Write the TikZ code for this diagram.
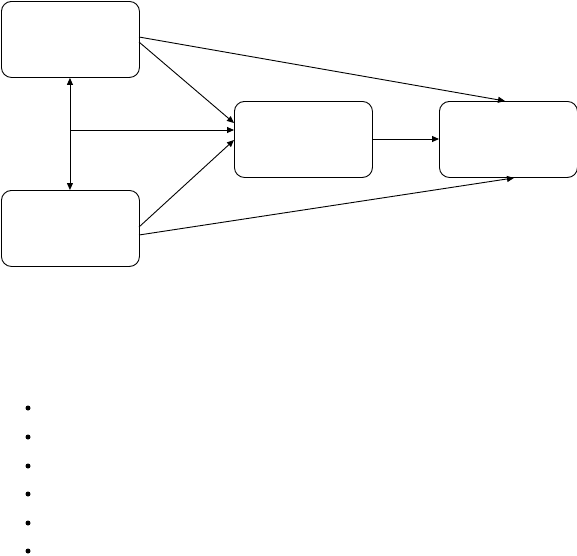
\documentclass[tikz,border=0pt]{standalone}
\usetikzlibrary{arrows.meta}
\begin{document}
\begin{tikzpicture}[x=1pt,y=-1pt,
  box/.style={draw,line width=0.9pt,rounded corners=10pt,minimum width=138pt,minimum height=76pt,inner sep=0pt,anchor=north west},
  conn/.style={line width=0.9pt,-{Triangle[length=7pt,width=6pt]}},
  dconn/.style={line width=0.9pt,{Triangle[length=7pt,width=6pt]}-{Triangle[length=7pt,width=6pt]}},
  bul/.style={circle,fill=black,minimum size=5pt,inner sep=0pt}]
\useasboundingbox (0,0) rectangle (577,555);
\node[box] (A) at (1,1) {};
\node[box] (B) at (1,190) {};
\node[box] (C) at (234,101) {};
\node[box] (D) at (439,101) {};
\coordinate (a1) at (139,37);
\coordinate (a2) at (139,42);
\coordinate (b1) at (139,227);
\coordinate (b2) at (139,235);
\coordinate (m) at (70,130);
\draw[conn] (a1) -- (D.north west -| 505,0);
\draw[conn] (a2) -- (C.west |- 0,123);
\draw[conn] (b1) -- (C.west |- 0,140);
\draw[conn] (b2) -- (D.south west -| 514,0);
\draw[dconn] (A.south) ++(-0.5,0) coordinate (vs) -- (B.north -| vs);
\draw[conn] (m) -- (C.west |- m);
\draw[conn] (C.east |- 0,139) -- (D.west |- 0,139);
\foreach \i/\y in {1/408,2/437,3/466,4/494,5/523,6/551}
  \node[bul] (p\i) at (28,\y) {};
\end{tikzpicture}
\end{document}
